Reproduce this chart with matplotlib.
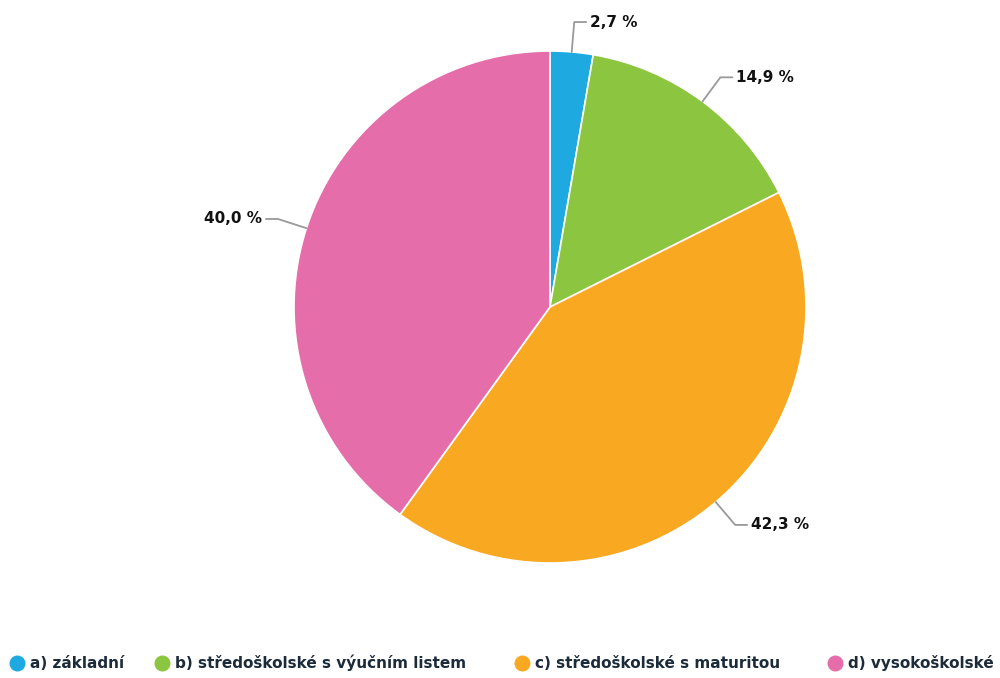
import numpy as np
import matplotlib
matplotlib.use("Agg")
from matplotlib import pyplot as plt

categories = ["a) základní", "b) středoškolské s výučním listem",
              "c) středoškolské s maturitou", "d) vysokoškolské"]
values = [2.7, 14.9, 42.3, 40.0]
colors = ["#1fa9e1", "#8cc540", "#f9a822", "#e56eaa"]

W, H = 1000, 678
cx, cy, r = 550, H - 307, 256
legend_x = [10, 155, 515, 828]
legend_y = H - 663

plt.rcParams["font.family"] = ["DejaVu Sans"]

fig = plt.figure(figsize=(W / 100, H / 100), dpi=100)
ax = fig.add_axes([0, 0, 1, 1])

wedges, _ = ax.pie(values, colors=colors, startangle=90, counterclock=False,
                   center=(cx, cy), radius=r,
                   wedgeprops=dict(edgecolor="white", linewidth=1.2))

# pie() changes the limits, so set them afterwards
ax.set_xlim(0, W)
ax.set_ylim(0, H)
ax.set_aspect("equal")
ax.axis("off")

# data labels with connectors
total = sum(values)
start = 90.0
for v in values:
    mid = np.deg2rad(start - v / total * 360 / 2)
    start -= v / total * 360
    ex, ey = cx + r * np.cos(mid), cy + r * np.sin(mid)
    lx, ly = cx + (r + 30) * np.cos(mid), cy + (r + 30) * np.sin(mid)
    side = 1 if np.cos(mid) >= 0 else -1
    ax.plot([ex, lx, lx + 12 * side], [ey, ly, ly], color="#999999", lw=1.3,
            solid_capstyle="round")
    txt = f"{v:.1f}".replace(".", ",") + " %"
    ax.text(lx + 16 * side, ly, txt, ha="left" if side > 0 else "right",
            va="center", fontsize=11, fontweight="bold", color="#111111")

# legend
for x, c, lab in zip(legend_x, colors, categories):
    ax.scatter([x + 7], [legend_y], s=110, marker="o", color=c)
    ax.text(x + 20, legend_y, lab, ha="left", va="center", fontsize=11,
            fontweight="bold", color="#1c2b3a")

fig.savefig("out.png", dpi=100)
